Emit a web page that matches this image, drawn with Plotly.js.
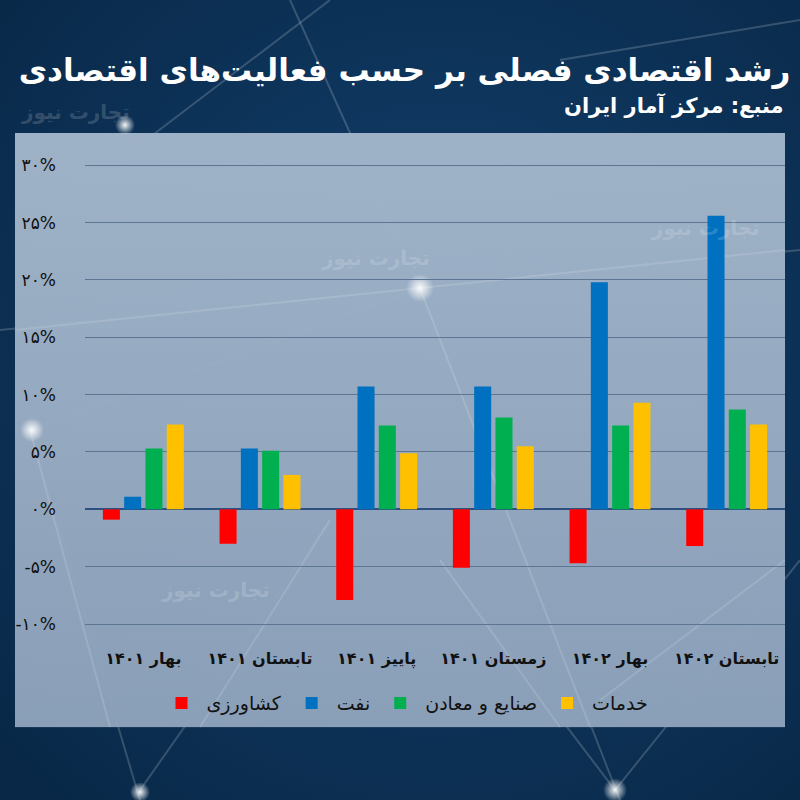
<!DOCTYPE html>
<html>
<head>
<meta charset="utf-8">
<script src="https://cdn.plot.ly/plotly-3.0.1.min.js"></script>
<style>html,body{margin:0;padding:0;background:#0b2f55;}#chart{width:800px;height:800px;}</style>
</head>
<body>
<div id="chart"></div>
<script>
// ---- data ----
const categories = ['بهار ۱۴۰۱','تابستان ۱۴۰۱','پاییز ۱۴۰۱','زمستان ۱۴۰۱','بهار ۱۴۰۲','تابستان ۱۴۰۲'];
const seriesNames = ['کشاورزی','نفت','صنایع و معادن','خدمات'];
const agriculture = [-0.9, -3.0, -7.9, -5.1, -4.7, -3.2];
const oil = [1.1, 5.3, 10.7, 10.7, 19.8, 25.6];
const industry = [5.3, 5.1, 7.3, 8.0, 7.3, 8.7];
const services = [7.4, 3.0, 4.9, 5.5, 9.3, 7.4];
const tickVals = [-10, -5, 0, 5, 10, 15, 20, 25, 30];
const tickText = ['-۱۰%','-۵%','۰%','۵%','۱۰%','۱۵%','۲۰%','۲۵%','۳۰%'];
const titleText = 'رشد اقتصادی فصلی بر حسب فعالیت‌های اقتصادی';
const subtitleText = 'منبع: مرکز آمار ایران';
const watermark = 'تجارت نیوز';

const colors = ['#FF0000', '#0070C0', '#00B050', '#FFC000'];
const FONT = 'DejaVu Sans, Noto Sans, sans-serif';

// ---- background (decorative) ----
const svg = `<svg xmlns="http://www.w3.org/2000/svg" width="800" height="800" viewBox="0 0 800 800">
<defs>
<radialGradient id="bg" cx="0.55" cy="0.45" r="0.8">
<stop offset="0" stop-color="#12406e"/><stop offset="1" stop-color="#082644"/></radialGradient>
<linearGradient id="panel" x1="0" y1="0" x2="0" y2="1">
<stop offset="0" stop-color="#a3b6cb"/><stop offset="1" stop-color="#8ea3bb"/></linearGradient>
<radialGradient id="dot"><stop offset="0" stop-color="#ffffff" stop-opacity="0.95"/><stop offset="1" stop-color="#ffffff" stop-opacity="0"/></radialGradient>
</defs>
<rect width="800" height="800" fill="url(#bg)"/>
<g stroke="#ffffff" stroke-opacity="0.18" stroke-width="2" fill="none">
<line x1="0" y1="330" x2="420" y2="288"/>
<line x1="420" y1="288" x2="800" y2="250"/>
<line x1="420" y1="288" x2="620" y2="800"/>
<line x1="420" y1="288" x2="290" y2="0"/>
<line x1="30" y1="430" x2="140" y2="800"/>
<line x1="30" y1="430" x2="420" y2="288"/>
<line x1="615" y1="790" x2="800" y2="560"/>
<line x1="615" y1="790" x2="440" y2="560"/>
<line x1="140" y1="790" x2="330" y2="520"/>
<line x1="330" y1="0" x2="120" y2="160"/>
<line x1="560" y1="60" x2="800" y2="20"/>
</g>
<rect x="15" y="133" width="770" height="594" fill="url(#panel)" fill-opacity="0.97"/>
<g stroke="#ffffff" stroke-opacity="0.13" stroke-width="2" fill="none">
<line x1="15" y1="330" x2="420" y2="288"/>
<line x1="420" y1="288" x2="785" y2="250"/>
<line x1="420" y1="288" x2="590" y2="727"/>
<line x1="30" y1="430" x2="110" y2="727"/>
<line x1="440" y1="560" x2="560" y2="727"/>
<line x1="330" y1="520" x2="200" y2="727"/>
<line x1="785" y1="560" x2="600" y2="700"/>
</g>
<circle cx="420" cy="288" r="14" fill="url(#dot)"/>
<circle cx="32" cy="430" r="12" fill="url(#dot)"/>
<circle cx="615" cy="790" r="12" fill="url(#dot)"/>
<circle cx="140" cy="792" r="10" fill="url(#dot)"/>
<circle cx="125" cy="125" r="10" fill="url(#dot)"/>
</svg>`;
const bgSrc = 'data:image/svg+xml;charset=utf-8,' + encodeURIComponent(svg);

// ---- geometry of the plot area (pixels) ----
const L = 85, R = 15, T = 148, B = 153.1;
const W = 800 - L - R, H = 800 - T - B;
const py = p => (800 - B - p) / H;   // pixel y -> paper y
const px = p => (p - L) / W;         // pixel x -> paper x

const traces = [agriculture, oil, industry, services].map((vals, i) => ({
  type: 'bar',
  name: seriesNames[i],
  x: categories,
  y: vals,
  marker: {color: colors[i]},
  hoverinfo: 'x+y+name'
}));

const wmPos = [[375, 258], [215, 590], [75, 112], [705, 228]];
const annotations = [
  {text: subtitleText, xref: 'paper', yref: 'paper', x: px(786), y: py(106),
   xanchor: 'right', yanchor: 'middle', showarrow: false,
   font: {family: FONT, size: 21, color: '#ffffff', weight: 'bold'}}
].concat(wmPos.map(p => ({
  text: watermark, xref: 'paper', yref: 'paper', x: px(p[0]), y: py(p[1]),
  xanchor: 'center', yanchor: 'middle', showarrow: false,
  font: {family: FONT, size: 20, color: 'rgba(255,255,255,0.18)', weight: 'bold'}
})));

const layout = {
  width: 800, height: 800,
  margin: {l: L, r: R, t: T, b: B},
  paper_bgcolor: '#0b2f55',
  plot_bgcolor: 'rgba(0,0,0,0)',
  font: {family: FONT, color: '#111111'},
  title: {text: titleText, x: 0.988, xanchor: 'right', xref: 'container',
          y: 1 - 70 / 800, yanchor: 'middle', yref: 'container',
          font: {family: FONT, size: 31, color: '#ffffff', weight: 'bold'}},
  barmode: 'group', bargap: 0.27, bargroupgap: 0.2,
  xaxis: {type: 'category', showgrid: false, zeroline: false, showline: false, ticks: '',
          tickfont: {family: FONT, size: 16, color: '#111111', weight: 'bold'}},
  yaxis: {range: [-12, 31.5], tickvals: tickVals, ticktext: tickText,
          showgrid: true, gridcolor: '#5b7592', gridwidth: 1,
          zeroline: true, zerolinecolor: '#2d5080', zerolinewidth: 2,
          showline: false, ticks: '', ticklabelstandoff: 28,
          tickfont: {family: FONT, size: 17, color: '#111111'}},
  showlegend: true,
  legend: {orientation: 'h', x: px(405), xanchor: 'center', y: py(703), yanchor: 'middle',
           bgcolor: 'rgba(0,0,0,0)', font: {family: FONT, size: 19, color: '#111111'},
           itemsizing: 'constant', itemwidth: 40, traceorder: 'normal'},
  images: [{source: bgSrc, xref: 'paper', yref: 'paper', x: px(0), y: py(0),
            sizex: 800 / W, sizey: 800 / H, xanchor: 'left', yanchor: 'top',
            sizing: 'stretch', layer: 'below'}],
  annotations: annotations
};

Plotly.newPlot('chart', traces, layout, {displayModeBar: false, staticPlot: true});
</script>
</body>
</html>
